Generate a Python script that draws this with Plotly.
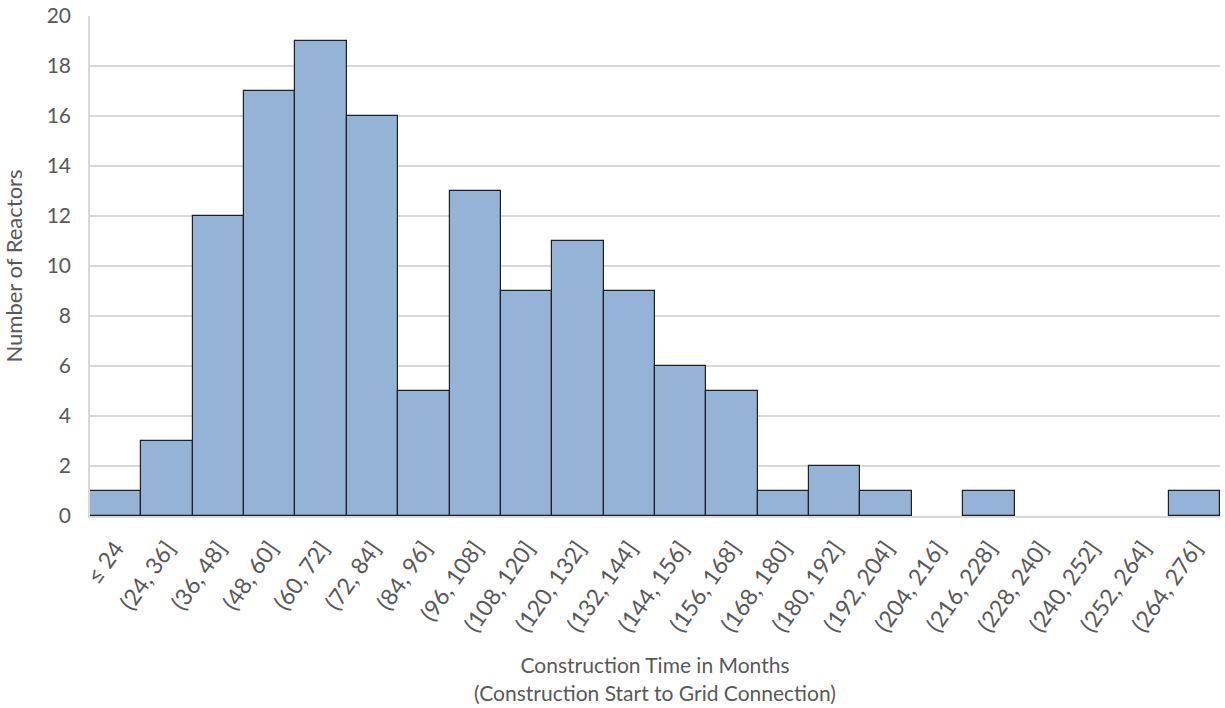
import plotly.graph_objects as go

categories = ["≤ 24", "(24, 36]", "(36, 48]", "(48, 60]", "(60, 72]", "(72, 84]", "(84, 96]",
              "(96, 108]", "(108, 120]", "(120, 132]", "(132, 144]", "(144, 156]", "(156, 168]",
              "(168, 180]", "(180, 192]", "(192, 204]", "(204, 216]", "(216, 228]", "(228, 240]",
              "(240, 252]", "(252, 264]", "(264, 276]"]
reactors = [1, 3, 12, 17, 19, 16, 5, 13, 9, 11, 9, 6, 5, 1, 2, 1, 0, 1, 0, 0, 0, 1]
y_ticks = [0, 2, 4, 6, 8, 10, 12, 14, 16, 18, 20]

FONT = "Lato"
GREY = "#595959"

# empty bins drawn without outline (as in the original)
bar_vals = [v if v > 0 else None for v in reactors]

fig = go.Figure(go.Bar(
    x=categories, y=bar_vals,
    marker=dict(color="#95B3D7", line=dict(color="#1f1f1f", width=1.2)),
))

fig.update_layout(
    width=1225, height=708,
    margin=dict(l=90, r=5, t=16, b=192),
    paper_bgcolor="white", plot_bgcolor="white",
    bargap=0,
    showlegend=False,
    font=dict(family=FONT, color=GREY, size=21),
)
fig.update_xaxes(
    automargin=False,
    tickangle=-55, tickfont=dict(size=23, color=GREY),
    ticklabelstandoff=8,
    showline=True, linecolor="#d9d9d9", linewidth=1.5,
    ticks="", showgrid=False,
    title=dict(text="Construction Time in Months<br>(Construction Start to Grid Connection)",
               font=dict(size=21, color=GREY), standoff=23),
)
fig.update_yaxes(
    automargin=False,
    range=[0, 20], tickvals=y_ticks,
    ticklabeloverflow="allow",
    showgrid=True, gridcolor="#d9d9d9", gridwidth=1.5,
    showline=True, linecolor="#d9d9d9", linewidth=1.5,
    zeroline=False, ticks="",
    ticklabelstandoff=13,
    tickfont=dict(size=21, color=GREY),
    title=dict(text="Number of Reactors", font=dict(size=22, color=GREY), standoff=25),
)

# remove the browser's default 8px body margin so the figure fills the window exactly
fig.write_html("out.html", config={"displayModeBar": False},
               post_script="document.body.style.margin='0';")
